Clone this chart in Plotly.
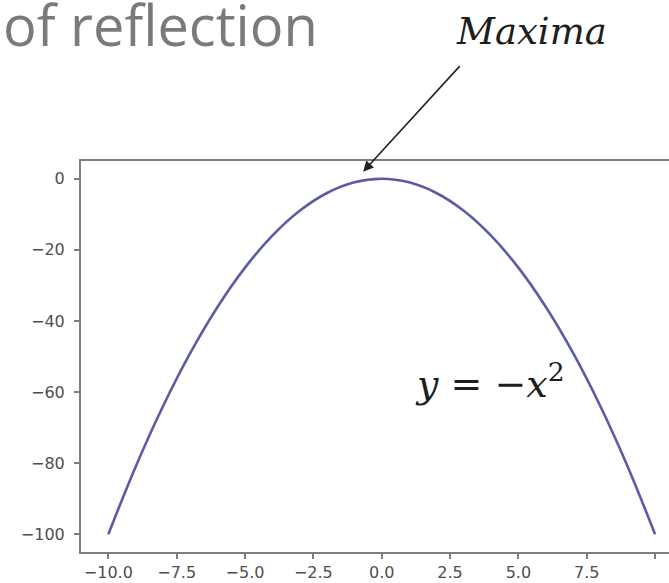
import plotly.graph_objects as go

# Sampled points of the downward parabola
x_vals = [-10, -9, -8, -7, -6, -5, -4, -3, -2, -1, 0,
          1, 2, 3, 4, 5, 6, 7, 8, 9, 10]
y_vals = [-100, -81, -64, -49, -36, -25, -16, -9, -4, -1, 0,
          -1, -4, -9, -16, -25, -36, -49, -64, -81, -100]

x_ticks = [-10, -7.5, -5, -2.5, 0, 2.5, 5, 7.5, 10]
y_ticks = [0, -20, -40, -60, -80, -100]

heading = "of reflection"
peak_label = "Maxima"
curve_label = "<i>y</i> = −<i>x</i><sup>2</sup>"

W, H = 669, 583
L, R, T, B = 81, 0, 161, 31

fig = go.Figure()
fig.add_trace(go.Scatter(
    x=x_vals, y=y_vals, mode="lines",
    line=dict(color="#5b5ba6", width=2.6, shape="spline", smoothing=1.0),
    hoverinfo="skip",
))

axis_common = dict(
    showgrid=False, zeroline=False,
    showline=True, linecolor="#7e7e7e", linewidth=2,
    ticks="outside", ticklen=5, tickwidth=1.5, tickcolor="#7e7e7e",
    tickfont=dict(family="DejaVu Sans", size=16, color="#4e4e4e"),
)

fig.update_xaxes(range=[-11, 10.51], tickvals=x_ticks, tickformat=".1f",
                 mirror=True, **axis_common)
fig.update_yaxes(range=[-105, 5], tickvals=y_ticks, mirror=False,
                 ticklabelstandoff=6, **axis_common)

pw = W - L - R
ph = H - T - B

def px(xp):
    return (xp - L) / pw

def py(yp):
    return (H - B - yp) / ph

# Slide heading fragment
fig.add_annotation(text=heading, xref="paper", yref="paper",
                   x=px(1), y=py(24), xanchor="left", yanchor="middle",
                   showarrow=False,
                   font=dict(family="Open Sans", size=56, color="#7a7a7a"))

# Arrow pointing at the peak
fig.add_annotation(text="", x=-0.68, y=2.0, xref="x", yref="y",
                   ax=98, ay=-107, axref="pixel", ayref="pixel",
                   showarrow=True, arrowhead=2, arrowsize=1.3, arrowwidth=1.6,
                   arrowcolor="#222222")

fig.add_annotation(text=f"<i>{peak_label}</i>", xref="paper", yref="paper",
                   x=px(531), y=py(31), xanchor="center", yanchor="middle",
                   showarrow=False,
                   font=dict(family="DejaVu Serif", size=37, color="#1e1e1e"))

fig.add_annotation(text=curve_label, x=3.95, y=-57, xref="x", yref="y",
                   xanchor="center", yanchor="middle", showarrow=False,
                   font=dict(family="DejaVu Serif", size=38, color="#1e1e1e"))

fig.update_layout(
    width=W, height=H,
    margin=dict(l=L, r=R, t=T, b=B),
    paper_bgcolor="white", plot_bgcolor="white",
    showlegend=False,
)

fig.write_html("out.html")
